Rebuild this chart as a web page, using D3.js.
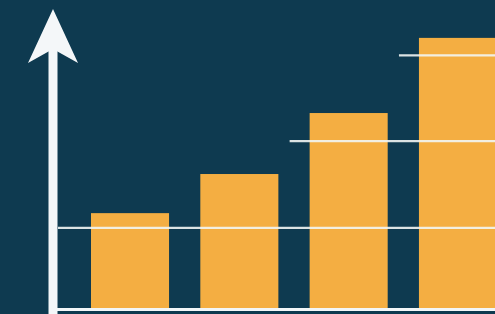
<!DOCTYPE html>
<html>
<head>
<meta charset="utf-8">
<script src="https://cdn.jsdelivr.net/npm/d3@7"></script>
<style>
body{margin:0;background:#0e3a50;overflow:hidden}
svg{display:block}
</style>
</head>
<body>
<svg width="495" height="314"></svg>
<script>
// data
const categories=['A','B','C','D'];
const values=[3.08,4.35,6.33,8.77];
const levels=[2.6,5.42,8.2];
const levelStart=[null,'C','D']; // null = from the axis

const svg=d3.select('svg');
const width=+svg.attr('width');
const height=+svg.attr('height');
const base=308;
const axisX=53;

svg.append('rect').attr('width',width).attr('height',height).attr('fill','#0e3a50');

const x=d3.scaleBand()
  .domain(categories)
  .range([91,497])
  .paddingInner(0.286)
  .paddingOuter(0);

const y=d3.scaleLinear()
  .domain([0,10])
  .range([base,0]);

/* bars */
svg.selectAll('.bar')
  .data(values)
  .enter()
  .append('rect')
    .attr('class','bar')
    .attr('x',(d,i)=>x(categories[i]))
    .attr('y',d=>y(d))
    .attr('width',x.bandwidth())
    .attr('height',d=>base-y(d))
    .attr('fill','#f4ae42');

/* reference lines */
svg.selectAll('.level')
  .data(levels)
  .enter()
  .append('line')
    .attr('class','level')
    .attr('x1',(d,i)=>levelStart[i]?x(levelStart[i])-20:axisX+5)
    .attr('x2',width)
    .attr('y1',d=>y(d))
    .attr('y2',d=>y(d))
    .attr('stroke','#f2f6f4')
    .attr('stroke-opacity',0.9)
    .attr('stroke-width',2.2);

/* bottom axis */
svg.append('line')
  .attr('x1',axisX).attr('x2',width)
  .attr('y1',base+1.5).attr('y2',base+1.5)
  .attr('stroke','#f2f6f8')
  .attr('stroke-width',3);

/* vertical arrow */
svg.append('rect')
  .attr('x',axisX-4.5).attr('y',45)
  .attr('width',9).attr('height',height-45)
  .attr('fill','#f4f7f9');

svg.append('path')
  .attr('d',`M${axisX},9 L${axisX+25},63 L${axisX},49 L${axisX-25},63 Z`)
  .attr('fill','#f4f7f9');
</script>
</body>
</html>
